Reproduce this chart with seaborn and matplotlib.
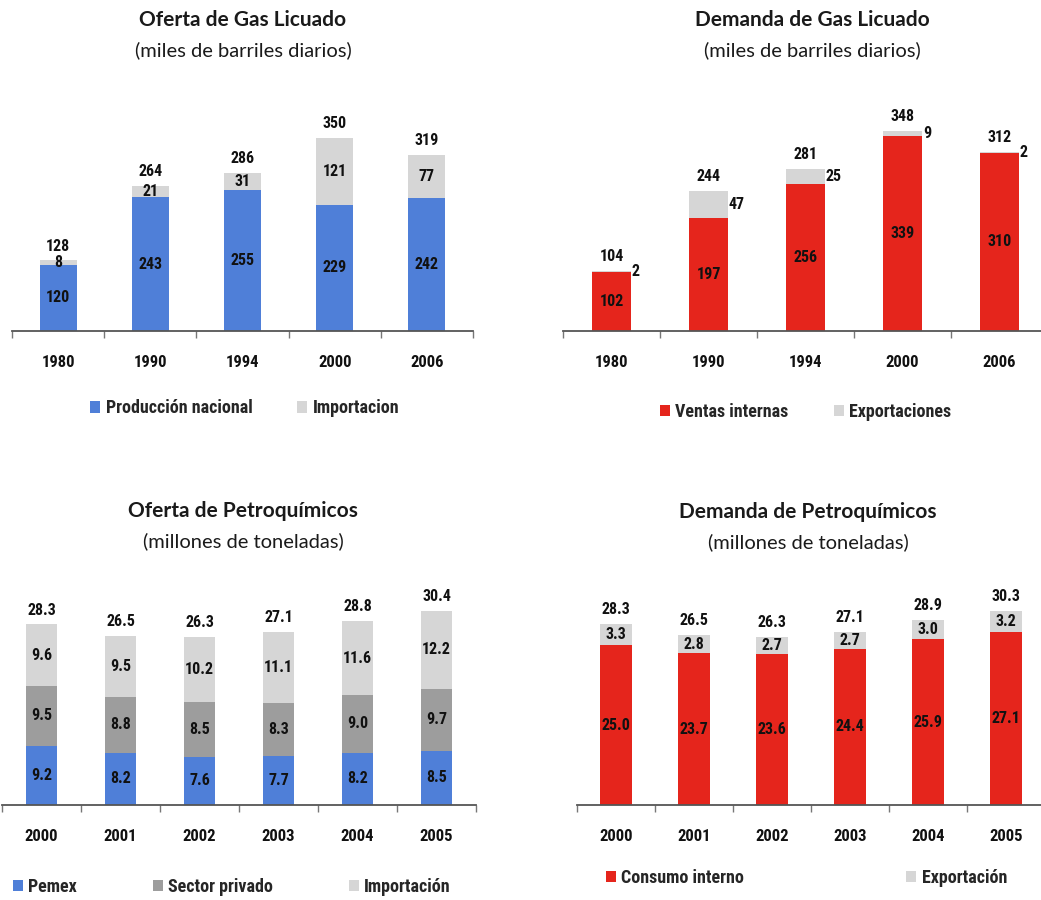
import numpy as np
import matplotlib
matplotlib.use("Agg")
import matplotlib.pyplot as plt
import seaborn as sns
from matplotlib.patches import Patch

# ---------------- data ----------------
years_gas = ["1980", "1990", "1994", "2000", "2006"]
oferta_produccion = [120, 243, 255, 229, 242]
oferta_importacion = [8, 21, 31, 121, 77]
oferta_total = [128, 264, 286, 350, 319]

demanda_ventas = [102, 197, 256, 339, 310]
demanda_export = [2, 47, 25, 9, 2]
demanda_total = [104, 244, 281, 348, 312]

years_pq = ["2000", "2001", "2002", "2003", "2004", "2005"]
pq_pemex = [9.2, 8.2, 7.6, 7.7, 8.2, 8.5]
pq_privado = [9.5, 8.8, 8.5, 8.3, 9.0, 9.7]
pq_importacion = [9.6, 9.5, 10.2, 11.1, 11.6, 12.2]
pq_oferta_total = [28.3, 26.5, 26.3, 27.1, 28.8, 30.4]

pq_consumo = [25.0, 23.7, 23.6, 24.4, 25.9, 27.1]
pq_exportacion = [3.3, 2.8, 2.7, 2.7, 3.0, 3.2]
pq_demanda_total = [28.3, 26.5, 26.3, 27.1, 28.9, 30.3]

# ---------------- style ----------------
sns.set_theme(style="white")
NARROW = ["Roboto Condensed", "Liberation Sans", "DejaVu Sans"]
TITLEF = ["Lato", "DejaVu Sans"]
plt.rcParams["font.family"] = NARROW

BLUE = "#4f7fd8"
RED = "#e5251c"
LGRAY = "#d6d6d6"
MGRAY = "#9d9d9d"

W, H = 1041, 900
fig = plt.figure(figsize=(W / 100, H / 100), dpi=100)
fig.patch.set_facecolor("white")


def px_axes(left, right, bottom, top):
    return fig.add_axes([left / W, 1 - bottom / H, (right - left) / W, (bottom - top) / H])


def stacked(ax, cats, layers, colors, totals, fmt, ymax, side_labels=None):
    layers = np.array(layers, dtype=float)
    cum = np.cumsum(layers, axis=0)
    for k in reversed(range(len(layers))):
        sns.barplot(x=cats, y=cum[k], color=colors[k], width=0.4, saturation=1,
                    linewidth=0, ax=ax, order=cats)
    n = len(cats)
    for k in range(len(layers)):
        for i in range(n):
            mid = cum[k][i] - layers[k][i] / 2
            if side_labels is not None and side_labels[k]:
                ax.text(i + 0.21, mid, fmt(layers[k][i]), ha="left", va="center",
                        fontsize=11.5, fontweight="bold", color="#111111")
            else:
                ax.text(i, mid, fmt(layers[k][i]), ha="center", va="center",
                        fontsize=11.5, fontweight="bold", color="#111111")
    for i in range(n):
        ax.annotate(fmt(totals[i]), (i, totals[i]), xytext=(0, 5),
                    textcoords="offset points", ha="center", va="bottom",
                    fontsize=11.5, fontweight="bold", color="#111111")
    ax.set_xlim(-0.5, n - 0.5)
    ax.set_ylim(0, ymax)
    ax.set_xlabel("")
    ax.set_ylabel("")
    ax.set_yticks([])
    for s in ["left", "right", "top"]:
        ax.spines[s].set_visible(False)
    ax.spines["bottom"].set_color("#555555")
    ax.spines["bottom"].set_linewidth(1.3)
    ax.set_xticks(np.arange(-0.5, n, 1.0), minor=True)
    ax.tick_params(axis="x", which="minor", length=5, width=1, color="#777777",
                   direction="out", bottom=True)
    ax.tick_params(axis="x", which="major", length=0, pad=17)
    for lab in ax.get_xticklabels():
        lab.set_fontsize(12)
        lab.set_fontweight("bold")
        lab.set_color("#111111")
    ax.set_facecolor("white")


def legend(ax, labels, colors, x, y, colsp):
    handles = [Patch(facecolor=c, edgecolor="none") for c in colors]
    leg = ax.legend(handles, labels, loc="center", bbox_to_anchor=(x, y),
                    ncol=len(labels), frameon=False, handlelength=0.55,
                    handleheight=0.6, handletextpad=0.3, columnspacing=colsp,
                    prop={"family": NARROW, "weight": "bold", "size": 13})
    return leg


def titles(cx, ty, title, sub):
    fig.text(cx / W, 1 - ty / H, title, ha="center", va="center", fontsize=15,
             fontweight="bold", family=TITLEF, color="#1a1a1a")
    fig.text(cx / W, 1 - (ty + 30) / H, sub, ha="center", va="center", fontsize=14.5,
             family=TITLEF, color="#1a1a1a")


fmt_int = lambda v: f"{v:.0f}"
fmt_dec = lambda v: f"{v:.1f}"

# Top-left: Oferta de Gas Licuado
ax1 = px_axes(12, 473, 331, 100)
stacked(ax1, years_gas, [oferta_produccion, oferta_importacion], [BLUE, LGRAY],
        oferta_total, fmt_int, 231 / 0.551)
legend(ax1, ["Producción nacional", "Importacion"], [BLUE, LGRAY], 0.505, -0.335, 2.5)
titles(243, 20, "Oferta de Gas Licuado", "(miles de barriles diarios)")

# Top-right: Demanda de Gas Licuado
ax2 = px_axes(563, 1048, 331, 100)
stacked(ax2, years_gas, [demanda_ventas, demanda_export], [RED, LGRAY],
        demanda_total, fmt_int, 231 / 0.575, side_labels=[False, True])
legend(ax2, ["Ventas internas", "Exportaciones"], [RED, LGRAY], 0.5, -0.35, 2.5)
titles(812, 20, "Demanda de Gas Licuado", "(miles de barriles diarios)")

# Bottom-left: Oferta de Petroquímicos
ax3 = px_axes(2, 476, 805, 580)
stacked(ax3, years_pq, [pq_pemex, pq_privado, pq_importacion], [BLUE, MGRAY, LGRAY],
        pq_oferta_total, fmt_dec, 225 / 6.38)
legend(ax3, ["Pemex", "Sector privado", "Importación"], [BLUE, MGRAY, LGRAY], 0.485, -0.364, 4.2)
titles(243, 511, "Oferta de Petroquímicos", "(millones de toneladas)")

# Bottom-right: Demanda de Petroquímicos
ax4 = px_axes(577, 1045, 805, 580)
stacked(ax4, years_pq, [pq_consumo, pq_exportacion], [RED, LGRAY],
        pq_demanda_total, fmt_dec, 225 / 6.4)
legend(ax4, ["Consumo interno", "Exportación"], [RED, LGRAY], 0.49, -0.324, 9)
titles(808, 512, "Demanda de Petroquímicos", "(millones de toneladas)")

fig.savefig("out.png", dpi=100, facecolor="white")
